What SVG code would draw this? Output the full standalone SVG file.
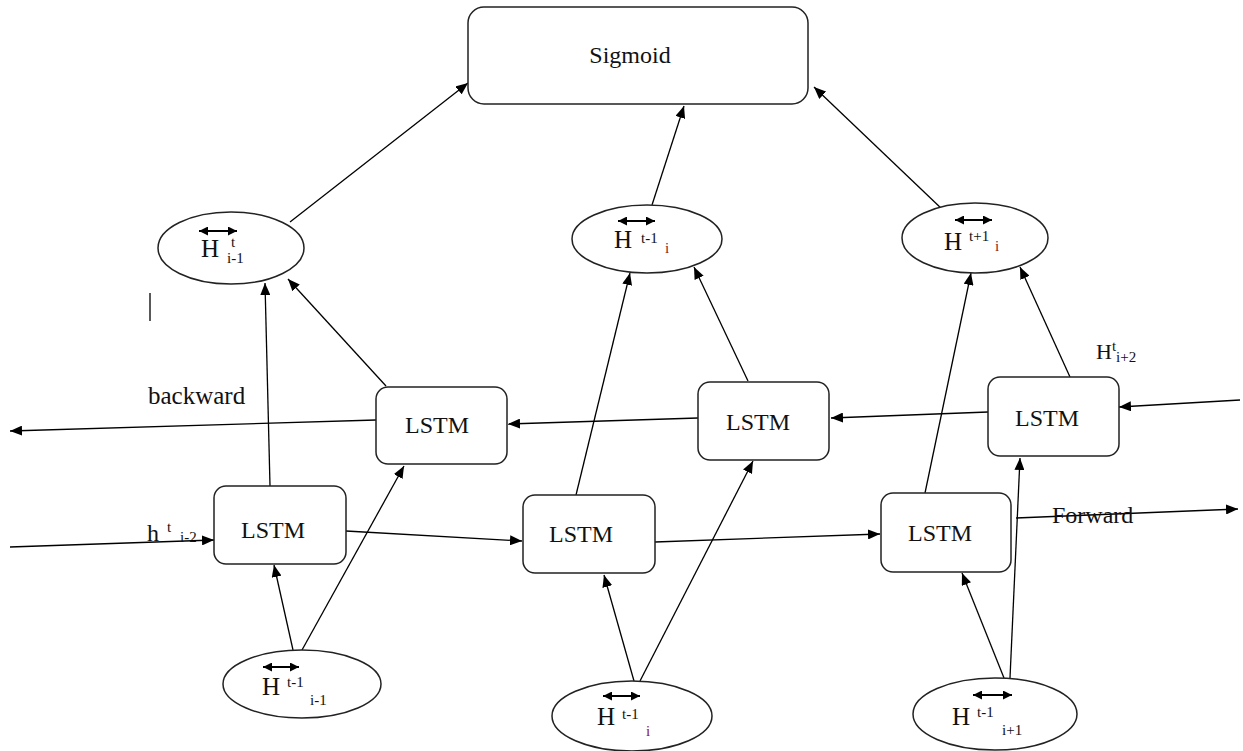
<svg xmlns="http://www.w3.org/2000/svg" width="1243" height="751" viewBox="0 0 1243 751">
<defs>
<marker id="ah" viewBox="0 0 12 10" refX="12" refY="5" markerWidth="12" markerHeight="10" markerUnits="userSpaceOnUse" orient="auto">
<path d="M0,0 L12,5 L0,10 z" fill="#000"/>
</marker>
<marker id="ah2" viewBox="0 0 10 10" refX="10" refY="5" markerWidth="9" markerHeight="9" markerUnits="userSpaceOnUse" orient="auto-start-reverse">
<path d="M0,0 L10,5 L0,10 z" fill="#000"/>
</marker>
</defs>
<style>
.box{fill:#fff;stroke:#222;stroke-width:1.5}
.ell{fill:#fff;stroke:#222;stroke-width:1.5}
.t{font-family:"Liberation Serif",serif;fill:#111}
.lbl{font-size:24px}
.H{font-size:25px}
.sm{font-size:15px}
.red{fill:#8b1a1a}
.c line{stroke:#000;stroke-width:1.3;marker-end:url(#ah)}
.dbl{stroke:#000;stroke-width:1.8;marker-start:url(#ah2);marker-end:url(#ah2)}
</style>
<rect width="1243" height="751" fill="#fff"/>

<g class="c" id="connectors">
<line x1="290" y1="222" x2="468" y2="83"/>
<line x1="652" y1="205" x2="684" y2="106"/>
<line x1="943" y1="210" x2="814" y2="87"/>
<line x1="270" y1="486" x2="265" y2="283"/>
<line x1="386" y1="386" x2="288" y2="279"/>
<line x1="576" y1="495" x2="630" y2="273"/>
<line x1="748" y1="381" x2="694" y2="267"/>
<line x1="925" y1="493" x2="971" y2="273"/>
<line x1="1070" y1="377" x2="1020" y2="267"/>
<line x1="376" y1="420" x2="10" y2="431"/>
<line x1="698" y1="418" x2="508" y2="424"/>
<line x1="988" y1="412" x2="831" y2="418"/>
<line x1="1240" y1="400" x2="1119" y2="407"/>
<line x1="10" y1="547" x2="214" y2="540"/>
<line x1="346" y1="531" x2="522" y2="541"/>
<line x1="655" y1="542" x2="880" y2="534"/>
<line x1="1016" y1="518" x2="1238" y2="509"/>
<line x1="293" y1="650" x2="274" y2="565"/>
<line x1="302" y1="650" x2="404" y2="466"/>
<line x1="634" y1="681" x2="604" y2="575"/>
<line x1="640" y1="681" x2="753" y2="461"/>
<line x1="1004" y1="678" x2="962" y2="573"/>
<line x1="1010" y1="678" x2="1020" y2="458"/>
</g>

<g id="sigmoid">
<rect class="box" x="468" y="7" width="340" height="97" rx="16"/>
<text class="t lbl" x="630" y="63" text-anchor="middle">Sigmoid</text>
</g>

<g id="lstm-b1"><rect class="box" x="376" y="387" width="131" height="77" rx="12"/><text class="t lbl" x="437" y="433" text-anchor="middle">LSTM</text></g>
<g id="lstm-b2"><rect class="box" x="698" y="382" width="131" height="78" rx="12"/><text class="t lbl" x="758" y="430" text-anchor="middle">LSTM</text></g>
<g id="lstm-b3"><rect class="box" x="988" y="377" width="131" height="79" rx="12"/><text class="t lbl" x="1047" y="426" text-anchor="middle">LSTM</text></g>
<g id="lstm-f1"><rect class="box" x="214" y="486" width="132" height="78" rx="12"/><text class="t lbl" x="273" y="538" text-anchor="middle">LSTM</text></g>
<g id="lstm-f2"><rect class="box" x="523" y="495" width="132" height="78" rx="12"/><text class="t lbl" x="581" y="542" text-anchor="middle">LSTM</text></g>
<g id="lstm-f3"><rect class="box" x="881" y="493" width="130" height="79" rx="12"/><text class="t lbl" x="940" y="541" text-anchor="middle">LSTM</text></g>

<g id="h-top1">
<ellipse class="ell" cx="231" cy="248" rx="73" ry="36"/>
<line class="dbl" x1="199" y1="231" x2="237" y2="231"/>
<text class="t H" x="201" y="257">H</text>
<text class="t sm" x="231" y="247">t</text>
<text class="t sm" x="227" y="263">i-1</text>
</g>
<g id="h-top2">
<ellipse class="ell" cx="647" cy="239" rx="75" ry="34"/>
<line class="dbl" x1="618" y1="221" x2="655" y2="221"/>
<text class="t H" x="614" y="248">H</text>
<text class="t sm" x="641" y="243">t-1</text>
<text class="t sm red" x="665" y="253">i</text>
</g>
<g id="h-top3">
<ellipse class="ell" cx="975" cy="238" rx="73" ry="35"/>
<line class="dbl" x1="955" y1="220" x2="992" y2="220"/>
<text class="t H" x="944" y="250">H</text>
<text class="t sm" x="969" y="241">t+1</text>
<text class="t sm red" x="995" y="251">i</text>
</g>
<g id="h-bot1">
<ellipse class="ell" cx="302" cy="684" rx="79" ry="34"/>
<line class="dbl" x1="263" y1="667" x2="299" y2="667"/>
<text class="t H" x="262" y="695">H</text>
<text class="t sm" x="287" y="687">t-1</text>
<text class="t sm" x="310" y="705">i-1</text>
</g>
<g id="h-bot2">
<ellipse class="ell" cx="632" cy="716" rx="80" ry="35"/>
<line class="dbl" x1="603" y1="696" x2="640" y2="696"/>
<text class="t H" x="597" y="725">H</text>
<text class="t sm" x="622" y="719">t-1</text>
<text class="t sm red" x="646" y="736">i</text>
</g>
<g id="h-bot3">
<ellipse class="ell" cx="995" cy="714" rx="82" ry="36"/>
<line class="dbl" x1="973" y1="695" x2="1012" y2="695"/>
<text class="t H" x="952" y="725">H</text>
<text class="t sm" x="977" y="717">t-1</text>
<text class="t sm" x="1002" y="735">i+1</text>
</g>

<g id="labels">
<text class="t" font-size="25" x="148" y="404">backward</text>
<text class="t" font-size="24" x="1052" y="523">Forward</text>
<text class="t" font-size="24" x="147" y="541">h</text>
<text class="t sm" x="167" y="532">t</text>
<text class="t sm" x="180" y="542">i-2</text>
<text class="t" font-size="22" x="1096" y="359">H</text>
<text class="t sm" x="1112" y="351">t</text>
<text class="t sm" x="1116" y="362">i+2</text>
<line x1="150" y1="293" x2="150" y2="321" stroke="#000" stroke-width="1.3"/>
</g>
</svg>
